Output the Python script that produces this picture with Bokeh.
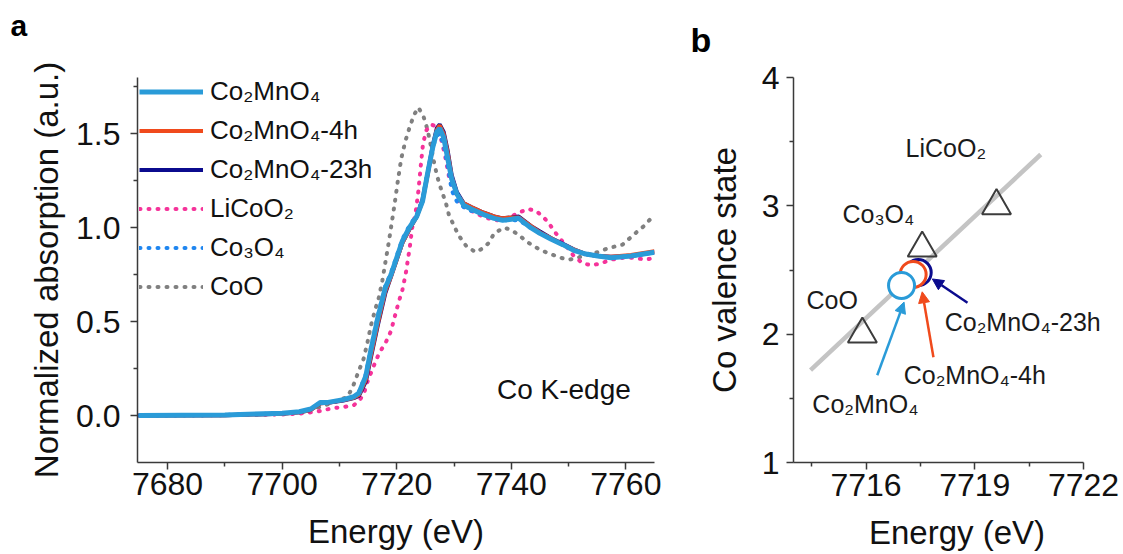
from bokeh.plotting import figure
from bokeh.layouts import row, column
from bokeh.models import (FixedTicker, PrintfTickFormatter, Legend, LegendItem, Label,
                          Arrow, NormalHead, Range1d)
from bokeh.core.properties import value
from bokeh.embed import file_html
from bokeh.resources import INLINE

FONT = "Liberation Sans"

# ---------------- Panel a: Co K-edge XANES ----------------
cmo_e = [7675, 7690, 7700, 7703, 7705, 7706.7, 7708, 7710.7, 7712.5, 7713.4, 7714.6, 7715.5,
         7716.7, 7718.0, 7719.0, 7720.0, 7721.0, 7722.2, 7723.5, 7724.5, 7725.4, 7726.3, 7727.0,
         7727.5, 7728.2, 7728.9, 7729.6, 7730.5, 7731.7, 7733.0, 7735.2, 7737.0, 7738.5, 7740.0,
         7741.3, 7743.4, 7745.0, 7746.9, 7749.0, 7750.9, 7753.0, 7755.1, 7757.4, 7760.9, 7765.0]
cmo_y = [0.0, 0.003, 0.012, 0.02, 0.035, 0.07, 0.07, 0.085, 0.10, 0.12, 0.21, 0.35,
         0.52, 0.68, 0.75, 0.84, 0.93, 1.00, 1.06, 1.14, 1.29, 1.43, 1.51,
         1.53, 1.48, 1.37, 1.26, 1.18, 1.12, 1.10, 1.07, 1.05, 1.04, 1.045,
         1.05, 1.00, 0.97, 0.94, 0.91, 0.88, 0.86, 0.85, 0.84, 0.85, 0.87]
h4_y = [0.0, 0.002, 0.010, 0.018, 0.03, 0.065, 0.068, 0.082, 0.095, 0.11, 0.19, 0.32,
        0.49, 0.66, 0.74, 0.83, 0.92, 0.99, 1.06, 1.14, 1.28, 1.43, 1.52,
        1.545, 1.50, 1.40, 1.27, 1.18, 1.13, 1.11, 1.08, 1.06, 1.05, 1.055,
        1.055, 1.01, 0.975, 0.945, 0.91, 0.885, 0.86, 0.85, 0.845, 0.855, 0.875]
h23_y = [0.0, 0.002, 0.010, 0.018, 0.03, 0.065, 0.068, 0.08, 0.093, 0.105, 0.18, 0.31,
         0.48, 0.65, 0.74, 0.83, 0.92, 0.99, 1.06, 1.15, 1.29, 1.44, 1.53,
         1.55, 1.51, 1.41, 1.28, 1.19, 1.13, 1.11, 1.08, 1.06, 1.05, 1.055,
         1.06, 1.01, 0.98, 0.945, 0.915, 0.885, 0.86, 0.85, 0.845, 0.85, 0.87]
co3o4_y = [0.0, 0.003, 0.012, 0.02, 0.035, 0.07, 0.07, 0.085, 0.10, 0.125, 0.22, 0.36,
           0.53, 0.69, 0.76, 0.85, 0.94, 1.01, 1.07, 1.15, 1.30, 1.43, 1.49,
           1.50, 1.44, 1.33, 1.20, 1.14, 1.11, 1.09, 1.07, 1.05, 1.04, 1.04,
           1.04, 1.00, 0.97, 0.94, 0.91, 0.88, 0.86, 0.85, 0.84, 0.85, 0.87]

lco_e = [7675, 7690, 7700, 7703, 7705.9, 7709.0, 7710.7, 7712.5, 7713.5, 7714.3, 7714.9, 7715.8,
         7716.9, 7718.1, 7719.0, 7719.6, 7720.3, 7721.0, 7721.6, 7722.3, 7722.7, 7723.3, 7723.8,
         7724.2, 7724.6, 7725.2, 7726.0, 7726.8, 7727.6, 7728.4, 7729.2, 7730.2, 7731.2, 7733.0,
         7735.0, 7737.0, 7738.5, 7740.0, 7741.3, 7742.9, 7744.3, 7745.5, 7746.4, 7747.8, 7749.9,
         7750.9, 7752.5, 7754.0, 7755.6, 7757.4, 7759.5, 7761.4, 7763.5, 7765.0]
lco_y = [0.0, 0.002, 0.006, 0.01, 0.02, 0.04, 0.045, 0.055, 0.08, 0.12, 0.18, 0.25,
         0.33, 0.39, 0.45, 0.52, 0.60, 0.67, 0.76, 0.90, 1.00, 1.08, 1.20,
         1.33, 1.45, 1.52, 1.55, 1.54, 1.49, 1.39, 1.26, 1.17, 1.12, 1.09,
         1.06, 1.04, 1.04, 1.06, 1.08, 1.10, 1.09, 1.06, 1.03, 0.97, 0.89,
         0.85, 0.81, 0.80, 0.81, 0.83, 0.84, 0.84, 0.83, 0.84]

coo_e = [7675, 7690, 7700, 7704, 7707, 7709, 7711.4, 7712.3, 7713.4, 7714.2, 7714.9, 7715.5,
         7716.3, 7716.9, 7717.5, 7718.1, 7718.6, 7719.0, 7719.6, 7720.2, 7720.8, 7721.5, 7722.2,
         7723.0, 7723.8, 7724.7, 7725.4, 7726.0, 7726.5, 7727.1, 7727.7, 7728.6, 7729.1, 7730.0,
         7730.8, 7731.5, 7732.2, 7733.8, 7735.0, 7736.1, 7737.0, 7738.7, 7739.9, 7741.4, 7742.5,
         7744.0, 7745.2, 7746.9, 7748.6, 7750.1, 7751.6, 7753.3, 7755.1, 7756.8, 7759.4, 7760.9,
         7762.0, 7763.2, 7764.4, 7765.0]
coo_y = [0.0, 0.003, 0.008, 0.02, 0.05, 0.07, 0.10, 0.15, 0.24, 0.30, 0.39, 0.48,
         0.57, 0.63, 0.72, 0.83, 0.92, 1.00, 1.12, 1.25, 1.37, 1.46, 1.53,
         1.60, 1.64, 1.59, 1.52, 1.43, 1.35, 1.27, 1.21, 1.13, 1.07, 1.01,
         0.96, 0.93, 0.90, 0.87, 0.89, 0.92, 0.97, 1.00, 0.99, 0.96, 0.93,
         0.90, 0.88, 0.86, 0.84, 0.83, 0.84, 0.86, 0.87, 0.89, 0.91, 0.95,
         0.98, 1.01, 1.05, 1.06]

series_labels = ["Co\u2082MnO\u2084", "Co\u2082MnO\u2084-4h", "Co\u2082MnO\u2084-23h",
                 "LiCoO\u2082", "Co\u2083O\u2084", "CoO"]
a_xticks = [7680, 7700, 7720, 7740, 7760]
a_xminor = [7690, 7710, 7730, 7750]
a_yticks = [0.0, 0.5, 1.0, 1.5]
a_yminor = [0.25, 0.75, 1.25, 1.75]

# ---------------- Panel b: valence vs edge energy ----------------
ref_names = ["CoO", "Co\u2083O\u2084", "LiCoO\u2082"]
ref_e = [7715.9, 7717.55, 7719.6]
ref_val = [2.0, 2.67, 3.0]
fit_e = [7714.47, 7720.82]
fit_val = [1.72, 3.40]
# drawing order: 23h, 4h, pristine
smp_e = [7717.44, 7717.30, 7716.98]
smp_val = [2.48, 2.465, 2.38]
arr_e0 = [7718.80, 7717.86, 7716.31]
arr_v0 = [2.245, 1.82, 1.68]
arr_e1 = [7717.83, 7717.55, 7717.05]
arr_v1 = [2.43, 2.33, 2.25]
lab_text = ["LiCoO\u2082", "Co\u2083O\u2084", "CoO", "Co\u2082MnO\u2084-23h", "Co\u2082MnO\u2084-4h", "Co\u2082MnO\u2084"]
lab_e = [7717.09, 7715.35, 7714.36, 7718.17, 7717.04, 7714.52]
lab_v = [3.454, 2.934, 2.264, 2.094, 1.684, 1.454]
b_xticks = [7716, 7719, 7722]
b_xminor = [7714.5, 7717.5, 7720.5]
b_yticks = [1, 2, 3, 4]
b_yminor = [1.5, 2.5, 3.5]

panel_tags = ["a", "b"]

C_CMO = "#2a9bd8"
C_4H = "#f04a1c"
C_23H = "#0b0b8e"
C_LCO = "#f5339a"
C_CO3O4 = "#1f86f0"
C_COO = "#808080"
C_AX = "#3a3a3a"


def style_axes(p, xt, xm, yt, ym, xfmt, yfmt, xlab, ylab):
    p.xaxis.ticker = FixedTicker(ticks=xt, minor_ticks=xm)
    p.yaxis.ticker = FixedTicker(ticks=yt, minor_ticks=ym)
    p.xaxis.formatter = PrintfTickFormatter(format=xfmt)
    p.yaxis.formatter = PrintfTickFormatter(format=yfmt)
    p.xaxis.axis_label = xlab
    p.yaxis.axis_label = ylab
    for ax in (p.xaxis[0], p.yaxis[0]):
        ax.axis_label_text_font = FONT
        ax.axis_label_text_font_size = "33px"
        ax.axis_label_text_font_style = "normal"
        ax.axis_label_text_color = "#111111"
        ax.major_label_text_font = FONT
        ax.major_label_text_font_size = "32px"
        ax.major_label_text_color = "#111111"
        ax.axis_line_color = C_AX
        ax.axis_line_width = 1.5
        ax.major_tick_line_color = C_AX
        ax.minor_tick_line_color = C_AX
        ax.major_tick_line_width = 1.5
        ax.minor_tick_line_width = 1.5
        ax.major_tick_in = 0
        ax.major_tick_out = 7
        ax.minor_tick_in = 0
        ax.minor_tick_out = 4
    p.grid.visible = False
    p.outline_line_color = None


# header strip carrying the panel letters
hdr = figure(width=1123, height=60, x_range=Range1d(0, 1123), y_range=Range1d(0, 60),
             output_backend="svg", toolbar_location=None, min_border=0)
hdr.axis.visible = False
hdr.grid.visible = False
hdr.outline_line_color = None
hdr.text(x=[10], y=[35], text=[panel_tags[0]], text_font=value(FONT), text_font_size="30px",
         text_font_style="bold", text_color="#000000", text_baseline="alphabetic")
hdr.text(x=[690], y=[20.5], text=[panel_tags[1]], text_font=value(FONT), text_font_size="34px",
         text_font_style="bold", text_color="#000000", text_baseline="alphabetic")

pa = figure(width=690, height=494, x_range=Range1d(7674.75, 7765), y_range=Range1d(-0.25, 1.8),
            output_backend="svg", toolbar_location=None, title=None,
            min_border_left=137, min_border_right=36, min_border_top=16, min_border_bottom=92)
style_axes(pa, a_xticks, a_xminor, a_yticks, a_yminor, "%d", "%.1f",
           "Energy (eV)", "Normalized absorption (a.u.)")
pa.xaxis.major_label_standoff = 3
pa.xaxis.axis_label_standoff = 15
pa.yaxis.major_label_standoff = 10
pa.yaxis.axis_label_standoff = 8

DOT = dict(line_dash="1 8", line_cap="round", line_width=4)
r_coo = pa.line(coo_e, coo_y, line_color=C_COO, **DOT)
r_lco = pa.line(lco_e, lco_y, line_color=C_LCO, **DOT)
r_23h = pa.line(cmo_e, h23_y, line_color=C_23H, line_width=4)
r_4h = pa.line(cmo_e, h4_y, line_color=C_4H, line_width=4)
r_co3o4 = pa.line(cmo_e, co3o4_y, line_color=C_CO3O4, **DOT)
r_cmo = pa.line(cmo_e, cmo_y, line_color=C_CMO, line_width=5)

rends = [r_cmo, r_4h, r_23h, r_lco, r_co3o4, r_coo]
leg = Legend(items=[LegendItem(label=l, renderers=[r]) for l, r in zip(series_labels, rends)],
             location=(2, 156), glyph_width=64, glyph_height=39, label_height=39,
             spacing=0, padding=0, margin=0, label_standoff=7,
             label_text_font=FONT, label_text_font_size="26px", label_text_color="#111111",
             background_fill_alpha=0, border_line_alpha=0)
pa.add_layout(leg)

pa.add_layout(Label(x=7737.5, y=0.138, text="Co K-edge", text_font=FONT, text_font_size="28px",
                    text_color="#111111", text_baseline="alphabetic"))

# panel b: frame extended to the right so that the long label is not clipped;
# the axis itself stops at 7722 through its bounds.
pb = figure(width=433, height=494, x_range=Range1d(7714, 7723.02), y_range=Range1d(1, 4),
            output_backend="svg", toolbar_location=None, title=None,
            min_border_left=103, min_border_right=3, min_border_top=17, min_border_bottom=92)
style_axes(pb, b_xticks, b_xminor, b_yticks, b_yminor, "%d", "%d",
           "Energy (eV)", "Co valence state")
pb.xaxis.bounds = (7714, 7722)
pb.xaxis.major_label_standoff = 4
pb.xaxis.axis_label_standoff = 15
pb.yaxis.major_label_standoff = 7
pb.yaxis.axis_label_standoff = 16

pb.line(fit_e, fit_val, line_color="#c4c4c4", line_width=4.5)
pb.scatter(ref_e, ref_val, marker="triangle", size=29, fill_color=None,
           line_color="#3c3c3c", line_width=2)
smp_colors = [C_23H, C_4H, C_CMO]
for i in range(3):
    pb.scatter([smp_e[i]], [smp_val[i]], marker="circle", size=26, fill_color="white",
               line_color=smp_colors[i], line_width=3)
for i in range(3):
    c = smp_colors[i]
    pb.add_layout(Arrow(x_start=arr_e0[i], y_start=arr_v0[i], x_end=arr_e1[i], y_end=arr_v1[i],
                        line_color=c, line_width=2.5,
                        end=NormalHead(size=11, fill_color=c, line_color=c, line_width=1)))
for t, e, v in zip(lab_text, lab_e, lab_v):
    pb.add_layout(Label(x=e, y=v, text=t, text_font=FONT, text_font_size="25px",
                        text_color="#1a1a1a", text_baseline="alphabetic"))

layout = column(hdr, row(pa, pb))
open("out.html", "w").write(file_html(layout, INLINE))
